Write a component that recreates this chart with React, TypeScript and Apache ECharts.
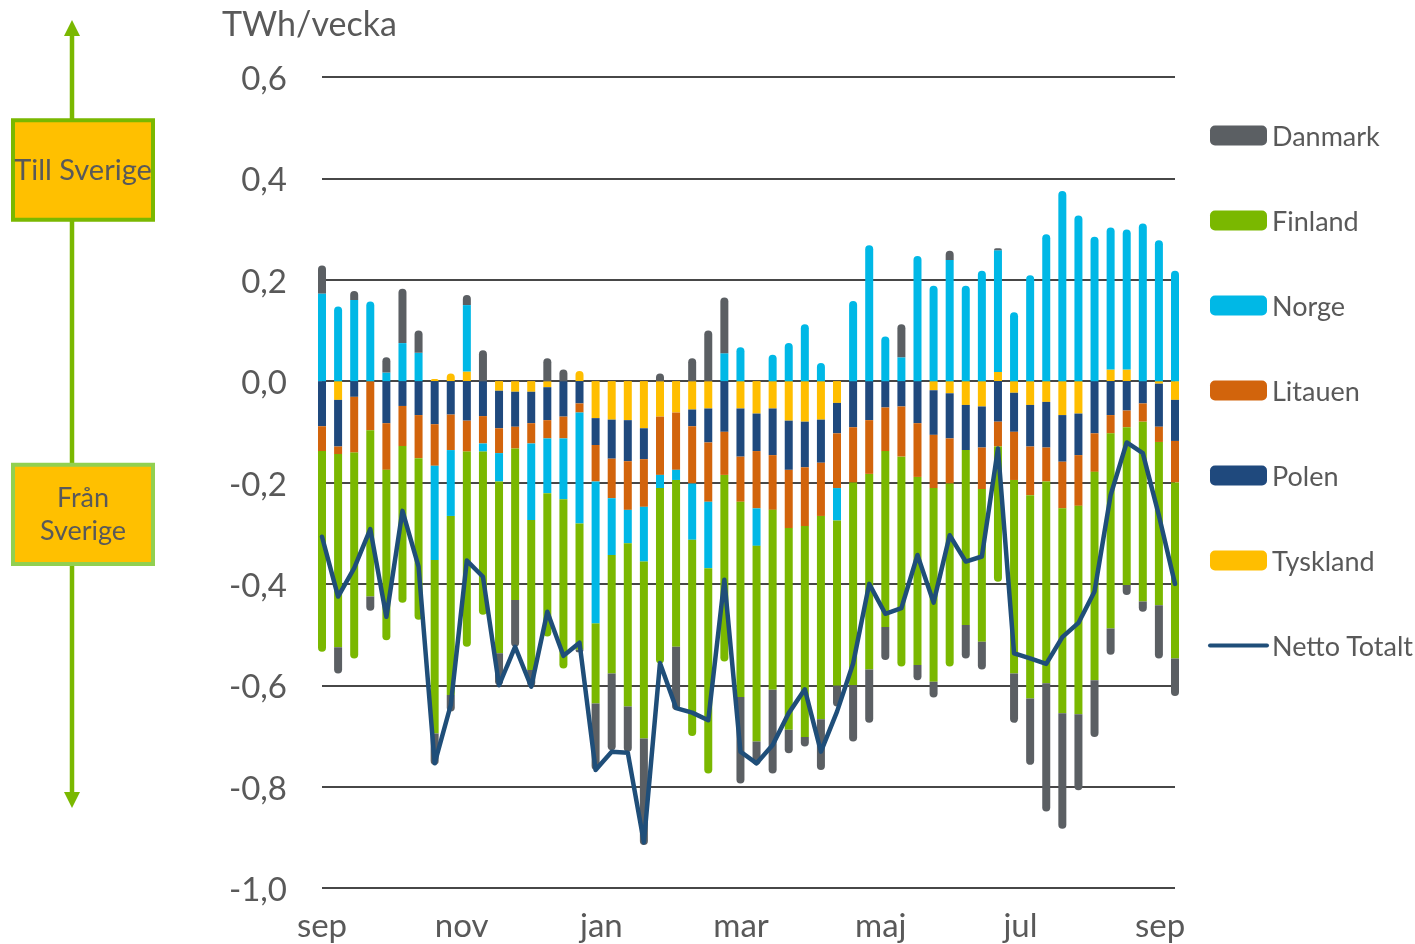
import React, { useEffect, useRef } from 'react';
import * as echarts from 'echarts';

// Month tick labels (every second month) and spacing in weeks between them
const monthLabels = ['sep', 'nov', 'jan', 'mar', 'maj', 'jul', 'sep'];
const MONTH_STEP = 8.68;

// Weekly exchange per country, TWh/vecka (positive = till Sverige, negative = från Sverige)
const tyskland = [0, -0.037, 0, 0, 0, 0, 0, 0.004, 0.015, 0.019, 0, -0.019, -0.021, -0.021, -0.012, 0, 0.02, -0.073, -0.076, -0.077, -0.093, -0.07, -0.062, -0.056, -0.054, 0, -0.054, -0.064, -0.054, -0.078, -0.08, -0.076, -0.043, 0, 0, 0, 0, 0, -0.018, -0.024, -0.047, -0.05, 0.018, -0.023, -0.047, -0.041, -0.067, -0.064, 0, 0.023, 0.023, 0, -0.005, -0.037];
const polen = [-0.089, -0.092, -0.031, 0, -0.083, -0.049, -0.067, -0.085, -0.066, -0.078, -0.069, -0.074, -0.069, -0.062, -0.065, -0.07, -0.044, -0.053, -0.077, -0.081, -0.061, 0, 0, -0.033, -0.067, -0.1, -0.095, -0.074, -0.092, -0.097, -0.09, -0.085, -0.06, -0.091, -0.077, -0.052, -0.05, -0.083, -0.088, -0.089, -0.089, -0.081, -0.08, -0.077, -0.082, -0.09, -0.092, -0.082, -0.103, -0.067, -0.058, -0.044, -0.085, -0.081];
const litauen = [-0.049, -0.015, -0.11, -0.097, -0.092, -0.079, -0.085, -0.082, -0.07, -0.061, -0.054, -0.049, -0.043, -0.04, -0.036, -0.043, -0.018, -0.072, -0.078, -0.096, -0.094, -0.115, -0.113, -0.113, -0.117, -0.085, -0.089, -0.113, -0.108, -0.115, -0.116, -0.105, -0.108, -0.109, -0.106, -0.086, -0.099, -0.106, -0.105, -0.089, 0, -0.082, -0.049, -0.095, -0.096, -0.067, -0.092, -0.1, -0.076, -0.036, -0.033, -0.036, -0.03, -0.082];
const norge = [0.173, 0.147, 0.16, 0.157, 0.017, 0.075, 0.056, -0.186, -0.13, 0.131, -0.016, -0.056, 0, -0.151, -0.108, -0.12, -0.219, -0.28, -0.112, -0.066, -0.108, -0.026, -0.02, -0.111, -0.131, 0.055, 0.067, -0.074, 0.052, 0.075, 0.112, 0.036, -0.064, 0.158, 0.268, 0.088, 0.047, 0.247, 0.188, 0.239, 0.188, 0.218, 0.24, 0.136, 0.209, 0.29, 0.375, 0.327, 0.285, 0.28, 0.276, 0.311, 0.278, 0.218];
const finland = [-0.396, -0.381, -0.406, -0.328, -0.336, -0.309, -0.319, -0.342, -0.353, -0.385, -0.322, -0.339, -0.299, -0.296, -0.283, -0.334, -0.249, -0.158, -0.234, -0.322, -0.349, -0.346, -0.329, -0.387, -0.405, -0.368, -0.385, -0.386, -0.355, -0.398, -0.416, -0.401, -0.326, -0.4, -0.386, -0.347, -0.414, -0.371, -0.382, -0.361, -0.345, -0.301, -0.267, -0.382, -0.401, -0.398, -0.404, -0.411, -0.411, -0.385, -0.311, -0.355, -0.322, -0.347];
const danmark = [0.055, -0.052, 0.018, -0.028, 0.03, 0.107, 0.044, -0.062, -0.033, 0.02, 0.061, -0.063, -0.092, -0.033, 0.045, 0.023, -0.005, -0.131, -0.151, -0.089, -0.21, 0.015, -0.125, 0.045, 0.1, 0.11, -0.171, -0.046, -0.165, -0.046, -0.019, -0.1, -0.041, -0.111, -0.105, -0.065, 0.065, -0.03, -0.031, 0.018, -0.066, -0.055, 0.004, -0.097, -0.131, -0.253, -0.228, -0.15, -0.112, -0.052, -0.02, -0.02, -0.105, -0.074];
const nettoTotalt = [-0.307, -0.425, -0.369, -0.292, -0.465, -0.256, -0.366, -0.754, -0.639, -0.354, -0.386, -0.6, -0.524, -0.603, -0.455, -0.542, -0.516, -0.767, -0.731, -0.733, -0.91, -0.556, -0.645, -0.654, -0.669, -0.392, -0.731, -0.754, -0.718, -0.655, -0.608, -0.731, -0.652, -0.557, -0.4, -0.459, -0.448, -0.343, -0.437, -0.304, -0.356, -0.346, -0.133, -0.537, -0.547, -0.558, -0.505, -0.477, -0.415, -0.225, -0.121, -0.142, -0.265, -0.4];

// Week categories (one per weekly value)
const weeks = nettoTotalt.map((_, i) => `v${i + 1}`);

// Stack order (from the zero line outwards)
const stackNames = ['Tyskland', 'Polen', 'Litauen', 'Norge', 'Finland', 'Danmark'];
const stackValues = [tyskland, polen, litauen, norge, finland, danmark];
const stackColors = ['#ffbe00', '#1f497d', '#d2640c', '#00b8e6', '#7ab800', '#5b5f63'];
const legendOrder = ['Danmark', 'Finland', 'Norge', 'Litauen', 'Polen', 'Tyskland', 'Netto Totalt'];

const FONT = 'Lato, "Open Sans", sans-serif';
const TEXT = '#595959';
const LINE_COLOR = '#1f4e79';

function fmtY(v: number) {
  if (Math.abs(v) < 1e-9) return '0,0';
  return v.toFixed(1).replace('.', ',');
}

function fmtX(v: number) {
  const k = Math.round(v / MONTH_STEP);
  if (Math.abs(v - k * MONTH_STEP) > 0.01 || k < 0 || k >= monthLabels.length) return '';
  return monthLabels[k];
}

export default function App() {
  const ref = useRef<HTMLDivElement>(null);

  useEffect(() => {
    if (!ref.current) return;
    const chart = echarts.init(ref.current, undefined, { renderer: 'svg' });

    const barSeries = stackValues.map((arr, s) => ({
      name: stackNames[s],
      type: 'bar',
      stack: 'flow',
      stackStrategy: 'samesign',
      barWidth: 8,
      xAxisIndex: 0,
      itemStyle: { color: stackColors[s] },
      emphasis: { disabled: true },
      data: arr.map((v, i) => {
        let outer = true;
        for (let t = s + 1; t < stackValues.length; t++) {
          const w = stackValues[t][i];
          if ((v > 0 && w > 0) || (v < 0 && w < 0)) outer = false;
        }
        const r = outer ? (v > 0 ? [4, 4, 0, 0] : [0, 0, 4, 4]) : 0;
        return { value: v, itemStyle: { borderRadius: r } };
      }),
    }));

    const option: any = {
      animation: false,
      textStyle: { fontFamily: FONT },
      grid: { left: 322, right: 240, top: 77, bottom: 56, containLabel: false },
      xAxis: [
        {
          type: 'category',
          data: weeks,
          boundaryGap: false,
          axisLine: { show: false },
          axisTick: { show: false },
          splitLine: { show: false },
          axisLabel: { show: false },
        },
        {
          type: 'value',
          position: 'bottom',
          min: 0,
          max: weeks.length - 1,
          interval: MONTH_STEP,
          axisLine: { show: false },
          axisTick: { show: false },
          splitLine: { show: false },
          axisLabel: {
            formatter: fmtX,
            fontSize: 33,
            color: TEXT,
            fontFamily: FONT,
            margin: 19,
            showMaxLabel: false,
            hideOverlap: false,
          },
        },
      ],
      yAxis: {
        type: 'value',
        min: -1,
        max: 0.6,
        interval: 0.2,
        axisLine: { show: false },
        axisTick: { show: false },
        splitLine: { lineStyle: { color: '#474747', width: 2 } },
        axisLabel: { formatter: fmtY, fontSize: 33, color: TEXT, fontFamily: FONT, margin: 35 },
      },
      legend: {
        orient: 'vertical',
        left: 1203,
        top: 117,
        itemWidth: 57,
        itemHeight: 20,
        itemGap: 58,
        selectedMode: false,
        data: [
          ...legendOrder.slice(0, 6),
          { name: legendOrder[6], itemStyle: { opacity: 0 }, lineStyle: { width: 4, color: LINE_COLOR, cap: 'round' } },
        ],
        textStyle: { fontSize: 27, color: TEXT, fontFamily: FONT },
      },
      series: [
        ...barSeries,
        {
          name: 'Netto Totalt',
          type: 'line',
          xAxisIndex: 0,
          symbol: 'none',
          z: 5,
          lineStyle: { color: LINE_COLOR, width: 4.5, cap: 'round', join: 'round' },
          itemStyle: { color: LINE_COLOR },
          emphasis: { disabled: true },
          data: nettoTotalt,
        },
      ],
      graphic: [
        { type: 'line', shape: { x1: 72, y1: 32, x2: 72, y2: 796 }, style: { stroke: '#7ab800', lineWidth: 4.5 } },
        { type: 'polygon', shape: { points: [[72, 20], [64, 36], [80, 36]] }, style: { fill: '#7ab800' } },
        { type: 'polygon', shape: { points: [[72, 808], [64, 792], [80, 792]] }, style: { fill: '#7ab800' } },
        {
          type: 'rect',
          shape: { x: 13, y: 120.3, width: 140, height: 99.4 },
          style: { fill: '#ffc000', stroke: '#7ab800', lineWidth: 4 },
        },
        {
          type: 'text',
          x: 83,
          y: 168,
          style: { text: 'Till Sverige', fontSize: 29, fill: TEXT, fontFamily: FONT, align: 'center', verticalAlign: 'middle' },
        },
        {
          type: 'rect',
          shape: { x: 13, y: 464.7, width: 140, height: 99.3 },
          style: { fill: '#ffc000', stroke: '#92d050', lineWidth: 4 },
        },
        {
          type: 'text',
          x: 83,
          y: 496,
          style: { text: 'Från', fontSize: 27, fill: TEXT, fontFamily: FONT, align: 'center', verticalAlign: 'middle' },
        },
        {
          type: 'text',
          x: 83,
          y: 529,
          style: { text: 'Sverige', fontSize: 27, fill: TEXT, fontFamily: FONT, align: 'center', verticalAlign: 'middle' },
        },
        {
          type: 'text',
          x: 222,
          y: 22,
          style: { text: 'TWh/vecka', fontSize: 34, fill: TEXT, fontFamily: FONT, align: 'left', verticalAlign: 'middle' },
        },
      ],
    };

    chart.setOption(option);
    return () => chart.dispose();
  }, []);

  return <div ref={ref} style={{ position: 'fixed', left: 0, top: 0, width: 1415, height: 944 }} />;
}
